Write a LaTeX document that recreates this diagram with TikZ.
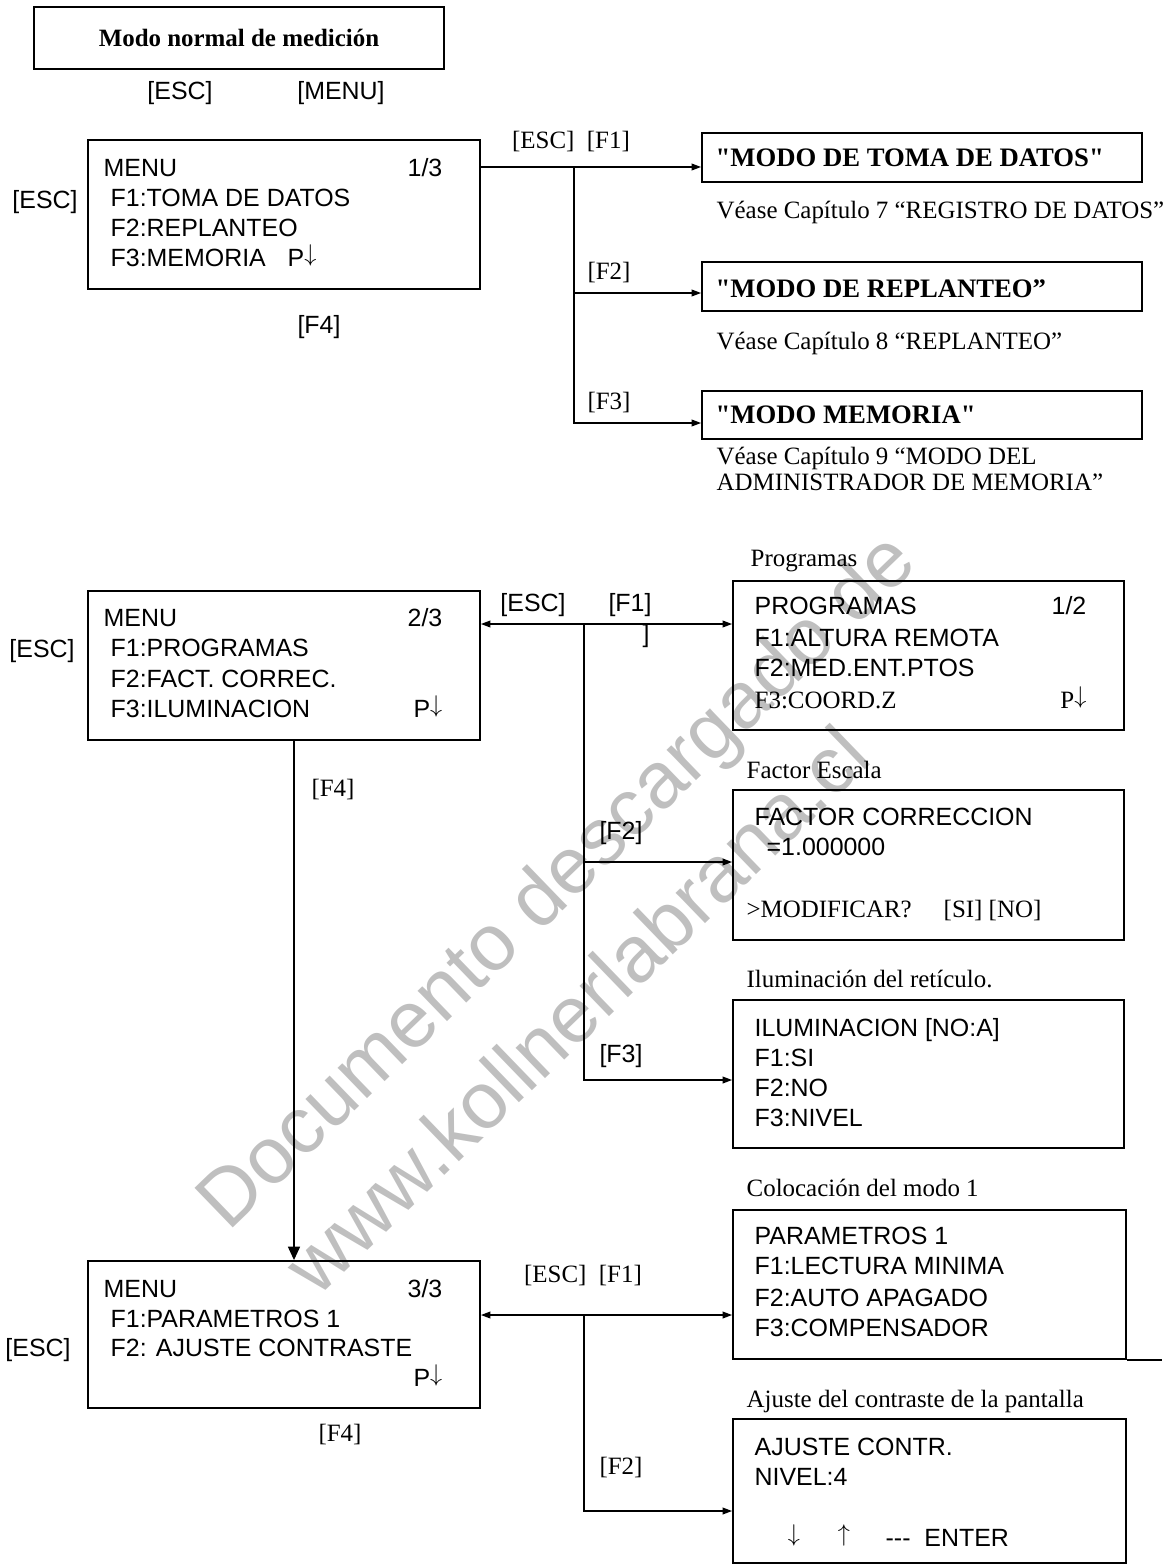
\documentclass[tikz,border=0pt]{standalone}
\usepackage{fontspec}
\setmainfont{Liberation Serif}[Ligatures=TeXOff]
\newfontfamily\arialfont{Liberation Sans}[Ligatures=TeXOff]
\usetikzlibrary{arrows.meta, fit}
\newcommand{\dnarrow}{\raisebox{3.4pt}{\scalebox{1.05}{$\downarrow$}}}
\newcommand{\uparr}{\raisebox{3.4pt}{\scalebox{1.05}{$\uparrow$}}}

\begin{document}
\begin{tikzpicture}[x=0.75pt, y=-0.75pt, line width=1pt,
    box/.style={draw, line width=1.4pt, inner sep=0pt, fit={#1}},
    scr/.style={anchor=west, inner sep=0pt, text height=13.5pt, text depth=0pt, font=\arialfont\fontsize{18.7}{22}\selectfont},
    scrr/.style={scr, anchor=east},
    ser/.style={anchor=west, inner sep=0pt, text height=13.5pt, text depth=0pt, font=\fontsize{18.7}{22}\selectfont},
    serr/.style={ser, anchor=east},
    lbl/.style={inner sep=0pt, text height=13.5pt, text depth=0pt, font=\fontsize{18.7}{22}\selectfont},
    slbl/.style={lbl, font=\arialfont\fontsize{18.7}{22}\selectfont},
    modo/.style={anchor=west, inner sep=0pt, text height=14pt, text depth=0pt, font=\bfseries\fontsize{20}{24}\selectfont},
    arr/.style={-{Triangle[length=7pt, width=5pt]}},
    arrs/.style={{Triangle[length=7pt, width=5pt]}-{Triangle[length=7pt, width=5pt]}},
    bigarr/.style={-{Triangle[length=10pt, width=9pt]}},
    wmark/.style={text=black!25, inner sep=0pt, rotate=44, font=\arialfont\fontsize{60}{62}\selectfont}
  ]
  \useasboundingbox (0,0) rectangle (1172,1566);

  % Watermark behind everything
  \node[wmark] (wm1) at (560,884) {Documento descargado de};
  \node[wmark] (wm2) at (576,1009) {www.kollnerlabrana.cl};

  % Normal measuring mode
  \node[box={(34,7) (444,69)}] (normal) {};
  \node[lbl, font=\bfseries\fontsize{18.7}{22}\selectfont] (normalt) at (normal.center) {Modo normal de medición};
  \node[slbl] (esc0) at (180,91) {[ESC]};
  \node[slbl] (menu0) at (341,91) {[MENU]};

  % MENU page 1/3
  \node[box={(88,140) (480,289)}] (m1) {};
  \node[scr] (m1t) at (103,167) {MENU};
  \node[scrr] (m1p) at (443,167) {1/3};
  \node[scr] (m1a) at (110,197) {F1:TOMA DE DATOS};
  \node[scr] (m1b) at (110,227) {F2:REPLANTEO};
  \node[scr] (m1c) at (110,257) {F3:MEMORIA};
  \node[scr] (m1d) at (287,257) {P\dnarrow};
  \node[slbl] (esc1) at (45,199) {[ESC]};
  \node[slbl] (f4a) at (319,324) {[F4]};

  % Branches from page 1/3
  \coordinate (j1) at (574,167);
  \coordinate (j1b) at (574,293);
  \coordinate (j1c) at (574,423);
  \node[lbl] (k1) at (571,140) {[ESC]\ \ [F1]};
  \node[lbl] (k1b) at (609,270) {[F2]};
  \node[lbl] (k1c) at (609,400) {[F3]};

  \node[box={(702,133) (1142,182)}] (toma) {};
  \node[modo] (tomat) at (715,157) {"MODO DE TOMA DE DATOS"};
  \node[ser] (see7) at (716,209) {Véase Capítulo 7 “REGISTRO DE DATOS”};

  \node[box={(702,262) (1142,311)}] (repl) {};
  \node[modo] (replt) at (715,288) {"MODO DE REPLANTEO”};
  \node[ser] (see8) at (716,340) {Véase Capítulo 8 “REPLANTEO”};

  \node[box={(702,391) (1142,439)}] (mem) {};
  \node[modo] (memt) at (715,414) {"MODO MEMORIA"};
  \node[ser] (see9a) at (716,455) {Véase Capítulo 9 “MODO DEL};
  \node[ser] (see9b) at (716,481) {ADMINISTRADOR DE MEMORIA”};

  \draw[arr] (m1.east |- j1) -- (toma.west |- j1);
  \draw[arr] (j1) -- (j1b) -- (repl.west |- j1b);
  \draw[arr] (j1b) -- (j1c) -- (mem.west |- j1c);

  % MENU page 2/3
  \node[box={(88,591) (480,740)}] (m2) {};
  \node[scr] (m2t) at (103,617) {MENU};
  \node[scrr] (m2p) at (443,617) {2/3};
  \node[scr] (m2a) at (110,647) {F1:PROGRAMAS};
  \node[scr] (m2b) at (110,678) {F2:FACT. CORREC.};
  \node[scr] (m2c) at (110,708) {F3:ILUMINACION};
  \node[scrr] (m2d) at (443,708) {P\dnarrow};
  \node[slbl] (esc2) at (42,648) {[ESC]};
  \node[lbl] (f4b) at (333,787) {[F4]};

  % Branches from page 2/3
  \coordinate (j2) at (584,624);
  \coordinate (j2b) at (584,862);
  \coordinate (j2c) at (584,1080);
  \node[slbl] (k2e) at (533,602) {[ESC]};
  \node[slbl] (k2f) at (630,602) {[F1]};
  \node[slbl] (k2r) at (646,633) {]};
  \node[slbl] (k2b) at (621,830) {[F2]};
  \node[slbl] (k2c) at (621,1053) {[F3]};

  \node[ser] (progl) at (750,557) {Programas};
  \node[box={(733,581) (1124,730)}] (prog) {};
  \node[scr] (progt) at (754,605) {PROGRAMAS};
  \node[scrr] (progp) at (1087,605) {1/2};
  \node[scr] (proga) at (754,637) {F1:ALTURA REMOTA};
  \node[scr] (progb) at (754,667) {F2:MED.ENT.PTOS};
  \node[ser] (progc) at (754,699) {F3:COORD.Z};
  \node[serr] (progd) at (1087,699) {P\dnarrow};

  \node[ser] (factl) at (746,769) {Factor Escala};
  \node[box={(733,790) (1124,940)}] (fact) {};
  \node[scr] (facta) at (754,816) {FACTOR CORRECCION};
  \node[scr] (factb) at (766,846) {=1.000000};
  \node[ser] (factc) at (746,908) {>MODIFICAR?\hspace{24pt}[SI] [NO]};

  \node[ser] (iluml) at (746,978) {Iluminación del retículo.};
  \node[box={(733,1000) (1124,1148)}] (ilum) {};
  \node[scr] (iluma) at (754,1027) {ILUMINACION [NO:A]};
  \node[scr] (ilumb) at (754,1057) {F1:SI};
  \node[scr] (ilumc) at (754,1087) {F2:NO};
  \node[scr] (ilumd) at (754,1117) {F3:NIVEL};

  \draw[arrs] (m2.east |- j2) -- (prog.west |- j2);
  \draw[arr] (j2) -- (j2b) -- (fact.west |- j2b);
  \draw[arr] (j2b) -- (j2c) -- (ilum.west |- j2c);

  % MENU page 3/3
  \node[box={(88,1261) (480,1408)}] (m3) {};
  \node[scr] (m3t) at (103,1288) {MENU};
  \node[scrr] (m3p) at (443,1288) {3/3};
  \node[scr] (m3a) at (110,1318) {F1:PARAMETROS 1};
  \node[scr] (m3b) at (110,1347) {F2: AJUSTE CONTRASTE};
  \node[scrr] (m3c) at (443,1377) {P\dnarrow};
  \node[slbl] (esc3) at (38,1347) {[ESC]};
  \node[lbl] (f4c) at (340,1432) {[F4]};

  \coordinate (v2) at (294,740);
  \draw[bigarr] (v2) -- (v2 |- m3.north);

  % Branches from page 3/3
  \coordinate (j3) at (584,1315);
  \coordinate (j3b) at (584,1511);
  \node[lbl] (k3) at (583,1273) {[ESC]\ \ [F1]};
  \node[lbl] (k3b) at (621,1465) {[F2]};

  \node[ser] (parl) at (746,1187) {Colocación del modo 1};
  \node[box={(733,1210) (1126,1359)}] (par) {};
  \node[scr] (para) at (754,1235) {PARAMETROS 1};
  \node[scr] (parb) at (754,1265) {F1:LECTURA MINIMA};
  \node[scr] (parc) at (754,1297) {F2:AUTO APAGADO};
  \node[scr] (pard) at (754,1327) {F3:COMPENSADOR};
  \draw[line width=1.4pt] (par.south east) -- ++(35,0);

  \node[ser] (ajusl) at (746,1398) {Ajuste del contraste de la pantalla};
  \node[box={(733,1419) (1126,1563)}] (ajus) {};
  \node[scr] (ajusa) at (754,1446) {AJUSTE CONTR.};
  \node[scr] (ajusb) at (754,1476) {NIVEL:4};
  \node[slbl] (ajusc) at (794,1537) {\dnarrow};
  \node[slbl] (ajusd) at (844,1537) {\uparr};
  \node[scr] (ajuse) at (885,1537) {---\ \ ENTER};

  \draw[arrs] (m3.east |- j3) -- (par.west |- j3);
  \draw[arr] (j3) -- (j3b) -- (ajus.west |- j3b);
\end{tikzpicture}
\end{document}
